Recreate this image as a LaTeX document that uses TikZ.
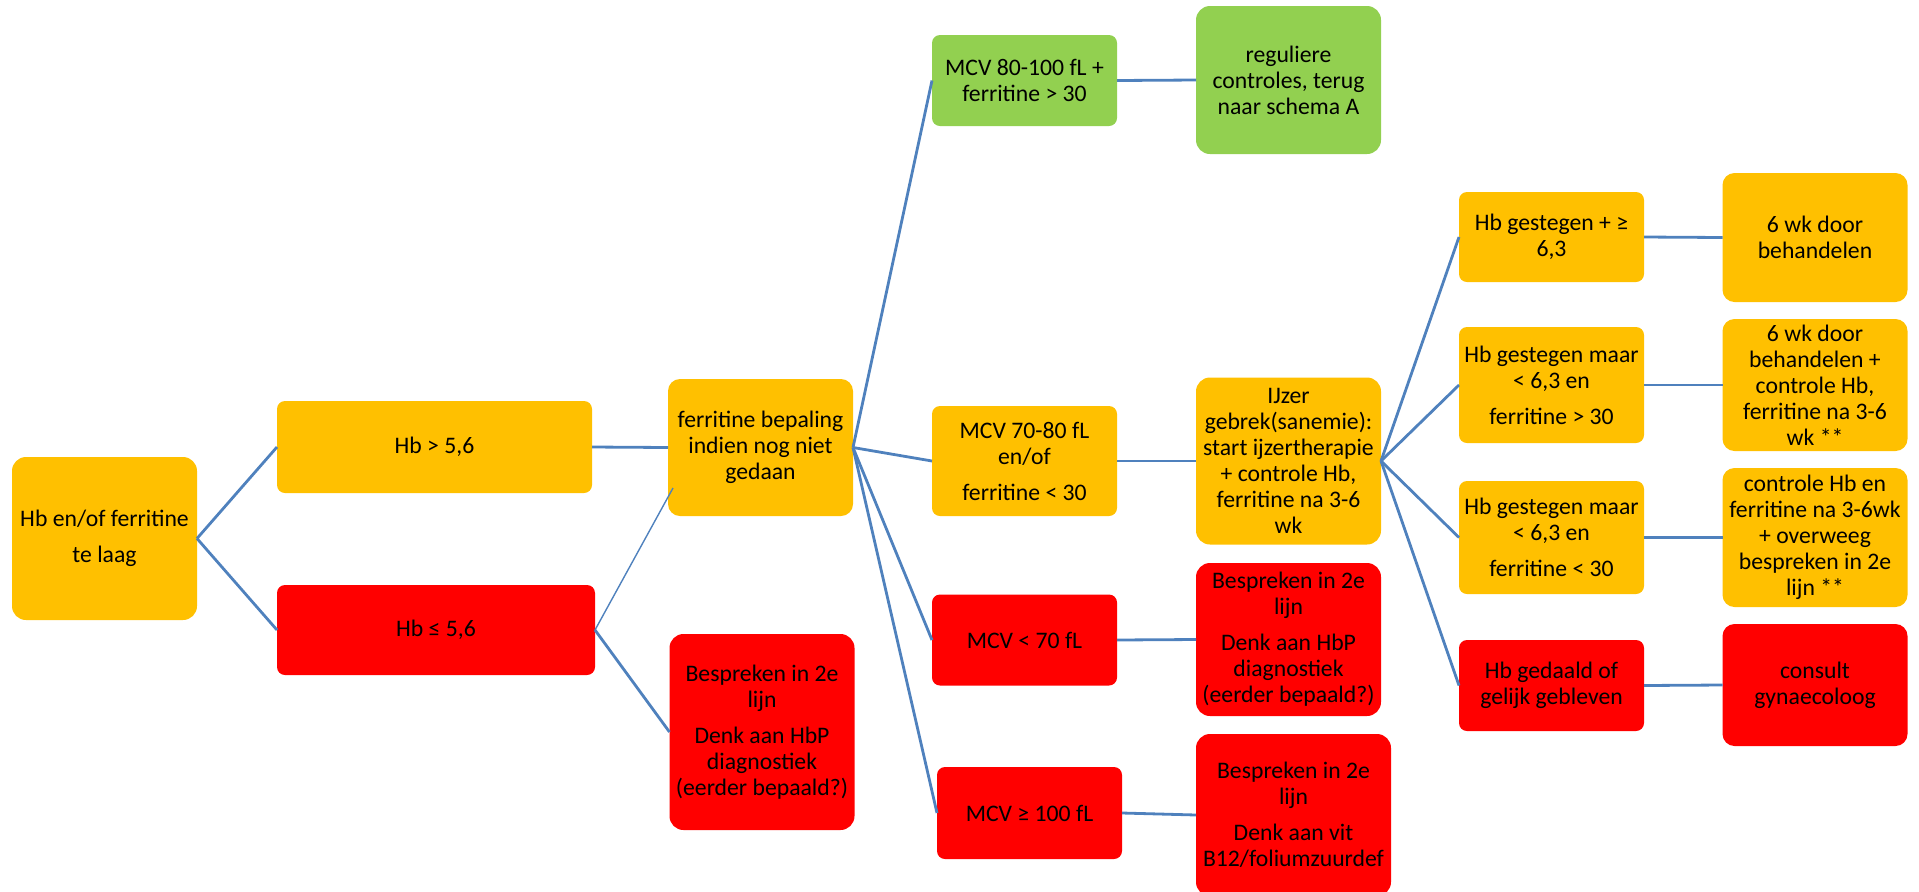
\documentclass[tikz,border=0pt]{standalone}
\usepackage{fontspec}
\setmainfont{Carlito}
\usetikzlibrary{calc}
\definecolor{amber}{RGB}{255,192,0}
\definecolor{alarm}{RGB}{255,0,0}
\definecolor{okgreen}{RGB}{146,208,80}
\definecolor{linkblue}{RGB}{79,129,189}

\begin{document}
\begin{tikzpicture}[x=0.5pt,y=-0.5pt,
		box/.style={rounded corners=4pt, inner sep=0pt, outer sep=0pt, align=center,
			minimum width=92.5pt, font=\fontsize{11.85}{13}\selectfont},
		amberbox/.style={box, fill=amber},
		redbox/.style={box, fill=alarm},
		greenbox/.style={box, fill=okgreen},
		link/.style={draw=linkblue, line width=1.4pt}]
		\useasboundingbox (0,0) rectangle (1919,891);
		
		\node[amberbox, minimum height=81.5pt, rounded corners=7pt] (root) at (104.5,538.5) {Hb en/of ferritine\\[5pt]te laag};
		
		\node[amberbox, minimum width=157.5pt, minimum height=46pt] (hbhigh) at (434.5,447) {Hb > 5,6};
		\node[redbox, minimum width=159pt, minimum height=45pt] (hblow) at (436,630) {Hb ≤ 5,6};
		
		\node[amberbox, minimum height=68.5pt, rounded corners=6pt] (ferbep) at (760.5,447.5) {ferritine bepaling\\indien nog niet\\gedaan};
		\node[redbox, minimum height=98pt, rounded corners=7pt] (besplow) at (762,732) {Bespreken in 2e\\lijn\\[5pt]Denk aan HbP\\diagnostiek\\(eerder bepaald?)};
		
		\node[greenbox, minimum height=45.5pt] (mcvnorm) at (1024.5,80.5) {MCV 80-100 fL +\\ferritine > 30};
		\node[amberbox, minimum height=55pt] (mcvlow) at (1024.5,461) {MCV 70-80 fL\\en/of\\[5pt]ferritine < 30};
		\node[redbox, minimum height=45.5pt] (mcvvlow) at (1024.5,640) {MCV < 70 fL};
		\node[redbox, minimum height=46pt] (mcvhigh) at (1029.5,813) {MCV ≥ 100 fL};
		
		\node[greenbox, minimum height=74pt, rounded corners=7pt] (regul) at (1288.5,80) {reguliere\\controles, terug\\naar schema A};
		\node[amberbox, minimum height=83.5pt, rounded corners=7pt] (ijzer) at (1288.5,461) {IJzer\\gebrek(sanemie):\\start ijzertherapie\\+ controle Hb,\\ferritine na 3-6\\wk};
		\node[redbox, minimum height=76.5pt, rounded corners=7pt] (besphbp) at (1288.5,639.5) {Bespreken in 2e\\lijn\\[5pt]Denk aan HbP\\diagnostiek\\(eerder bepaald?)};
		\node[redbox, minimum width=97.5pt, minimum height=81pt, rounded corners=7pt] (bespvit) at (1293.5,815) {Bespreken in 2e\\lijn\\[5pt]Denk aan vit\\B12/foliumzuurdef};
		
		\node[amberbox, minimum height=45pt] (hbup) at (1551.5,237) {Hb gestegen + ≥\\6,3};
		\node[amberbox, minimum height=58pt] (hbmid) at (1551.5,385) {Hb gestegen maar\\< 6,3 en\\[5pt]ferritine > 30};
		\node[amberbox, minimum height=56.5pt] (hblo) at (1551.5,537.5) {Hb gestegen maar\\< 6,3 en\\[5pt]ferritine < 30};
		\node[redbox, minimum height=45.5pt] (hbdown) at (1551.5,685.5) {Hb gedaald of\\gelijk gebleven};
		
		\node[amberbox, minimum height=64.5pt, rounded corners=6pt] (wkdoor) at (1815,237.5) {6 wk door\\behandelen};
		\node[amberbox, minimum height=66pt, rounded corners=6pt] (wkctrl) at (1815,385) {6 wk door\\behandelen +\\controle Hb,\\ferritine na 3-6\\wk **};
		\node[amberbox, minimum height=69.5pt, rounded corners=6pt] (ctrlhb) at (1815,537.5) {controle Hb en\\ferritine na 3-6wk\\+ overweeg\\bespreken in 2e\\lijn **};
		\node[redbox, minimum height=61pt, rounded corners=6pt] (consult) at (1815,685) {consult\\gynaecoloog};
		
		\draw[link] (root.east) -- (hbhigh.west);
		\draw[link] (root.east) -- (hblow.west);
		\draw[link] (hbhigh.east) -- (ferbep.west);
		\draw[link, line width=0.7pt] (hblow.east) -- ($(ferbep.south west)+(5,-28)$);
		\draw[link] (hblow.east) -- (besplow.west);
		\foreach \n in {mcvnorm,mcvlow,mcvvlow,mcvhigh}
			\draw[link] (ferbep.east) -- (\n.west);
		\foreach \n in {hbup,hbmid,hblo,hbdown}
			\draw[link] (ijzer.east) -- (\n.west);
		\foreach \a/\b in {mcvnorm/regul,mcvlow/ijzer,mcvvlow/besphbp,mcvhigh/bespvit,hbup/wkdoor,hbmid/wkctrl,hblo/ctrlhb,hbdown/consult}
			\draw[link] (\a.east) -- (\b.west);
	\end{tikzpicture}
\end{document}
